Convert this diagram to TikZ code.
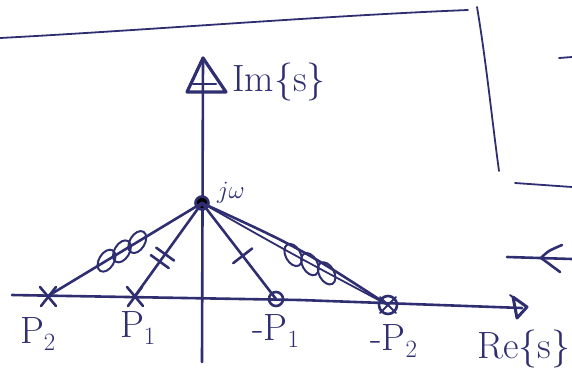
\documentclass[tikz,border=0pt]{standalone}
\usetikzlibrary{calc,shapes.geometric}
\definecolor{ink}{RGB}{46,46,112}
\begin{document}
\begin{tikzpicture}[x=1pt,y=-1pt,
  ink/.style={draw=ink,line width=2.6pt,line cap=round,line join=round},
  thin/.style={draw=ink,line width=1.8pt,line cap=round,line join=round},
  lbl/.style={text=ink,font=\fontsize{38}{40}\selectfont,inner sep=0pt},
  loopmark/.style={draw=ink,line width=2pt,ellipse,minimum width=15pt,minimum height=24pt,inner sep=0pt},
]
\useasboundingbox (0,0) rectangle (572,370);
% frame sketch lines
\coordinate (tl) at (0,38); \coordinate (tr) at (468,10);
\draw[thin] (tl) .. controls (150,30) and (320,16) .. (tr);
\coordinate (vt) at (477,7); \coordinate (vb) at (499,171);
\draw[thin] (vt) .. controls (486,60) and (492,120) .. (vb);
\coordinate (s1a) at (559,58); \coordinate (s1b) at (572,57);
\draw[thin] (s1a) -- (s1b);
\coordinate (s2a) at (515,183); \coordinate (s2b) at (572,187);
\draw[thin] (s2a) -- (s2b);
\coordinate (arA) at (507,257); \coordinate (arB) at (572,259);
\coordinate (arT) at (541,258); \coordinate (arW1) at (562,245); \coordinate (arW2) at (560,272);
\draw[ink] (arA) -- (arB);
\draw[ink] (arW1) .. controls (548,251) .. (arT) .. controls (548,263) .. (arW2);
\coordinate (s3a) at (510,295); \coordinate (s3b) at (518,301);
\draw[thin] (s3a) -- (s3b);
% imaginary axis
\coordinate (imbot) at (202,362); \coordinate (imtop) at (203,58);
\coordinate (imL) at (187,92); \coordinate (imR) at (226,92);
\coordinate (imbL) at (193,84); \coordinate (imbR) at (216,84);
\draw[ink] (imbot) -- (imtop);
\draw[ink,line width=3.2pt] (imtop) -- (imL) -- (imR) -- cycle;
\draw[ink] (imbL) -- (imbR);
\node[lbl,anchor=west] (imlabel) at (232,82) {Im\{s\}};
% real axis
\coordinate (rel) at (12,295); \coordinate (rer) at (522,308);
\coordinate (reT) at (527,307); \coordinate (reU) at (513,297); \coordinate (reD) at (517,318);
\draw[ink] (rel) -- (300,300) -- (rer);
\draw[ink,line width=3pt] (reU) -- (reT) -- (reD) -- cycle;
\node[lbl] (relabel) at (524,349) {Re\{s\}};
% points
\coordinate (jw) at (202,203);
\coordinate (p2) at (48,296);
\coordinate (p1) at (135,296);
\coordinate (mp1) at (276,299);
\coordinate (mp2) at (388,305);
\fill[ink] (jw) circle (6.5);
\node[lbl,font=\fontsize{32}{34}\selectfont] (jwl) at (231,193) {$j\omega$};
% markers
\draw[ink] ($(p2)+(-8,-9)$) -- ($(p2)+(8,10)$) ($(p2)+(8,-9)$) -- ($(p2)+(-7,10)$);
\draw[ink] ($(p1)+(-8,-9)$) -- ($(p1)+(8,10)$) ($(p1)+(7,-9)$) -- ($(p1)+(-7,10)$);
\draw[ink] (mp1) circle (7);
\draw[ink] (mp2) circle (9);
\draw[thin] ($(mp2)+(-8,-8)$) -- ($(mp2)+(8,8)$) ($(mp2)+(8,-8)$) -- ($(mp2)+(-8,8)$);
% connectors
\draw[ink] (jw) -- (p2);
\draw[ink] (jw) -- (p1);
\draw[ink] (jw) -- (mp1);
\draw[ink] (jw) .. controls (300,248) .. (mp2);
\draw[thin] (jw) .. controls (292,254) .. (mp2);
% loop marks on jw--p2
\foreach \t/\n in {0.42/a,0.52/b,0.62/c}{
  \node[loopmark,rotate=-31] (lp\n) at ($(jw)!\t!(p2)$) {};
}
% loop marks on jw--(-p2)
\foreach \t/\n in {0.49/a,0.58/b,0.67/c}{
  \node[loopmark,rotate=29] (lm\n) at ($(jw)!\t!(mp2)+(0,2)$) {};
}
% ticks on jw--p1
\coordinate (t1) at ($(jw)!0.55!(p1)$);
\coordinate (t2) at ($(jw)!0.63!(p1)$);
\draw[ink] ($(t1)!11pt!90:(p1)$) -- ($(t1)!11pt!-90:(p1)$);
\draw[ink] ($(t2)!11pt!90:(p1)$) -- ($(t2)!11pt!-90:(p1)$);
% tick on jw--(-p1)
\coordinate (t3) at ($(jw)!0.55!(mp1)$);
\draw[ink] ($(t3)!12pt!90:(mp1)$) -- ($(t3)!12pt!-90:(mp1)$);
% labels
\node[lbl] (p2l) at (38,334) {P$_2$};
\node[lbl] (p1l) at (138,328) {P$_1$};
\node[lbl] (mp1l) at (276,331) {-P$_1$};
\node[lbl] (mp2l) at (394,341) {-P$_2$};
\end{tikzpicture}
\end{document}
